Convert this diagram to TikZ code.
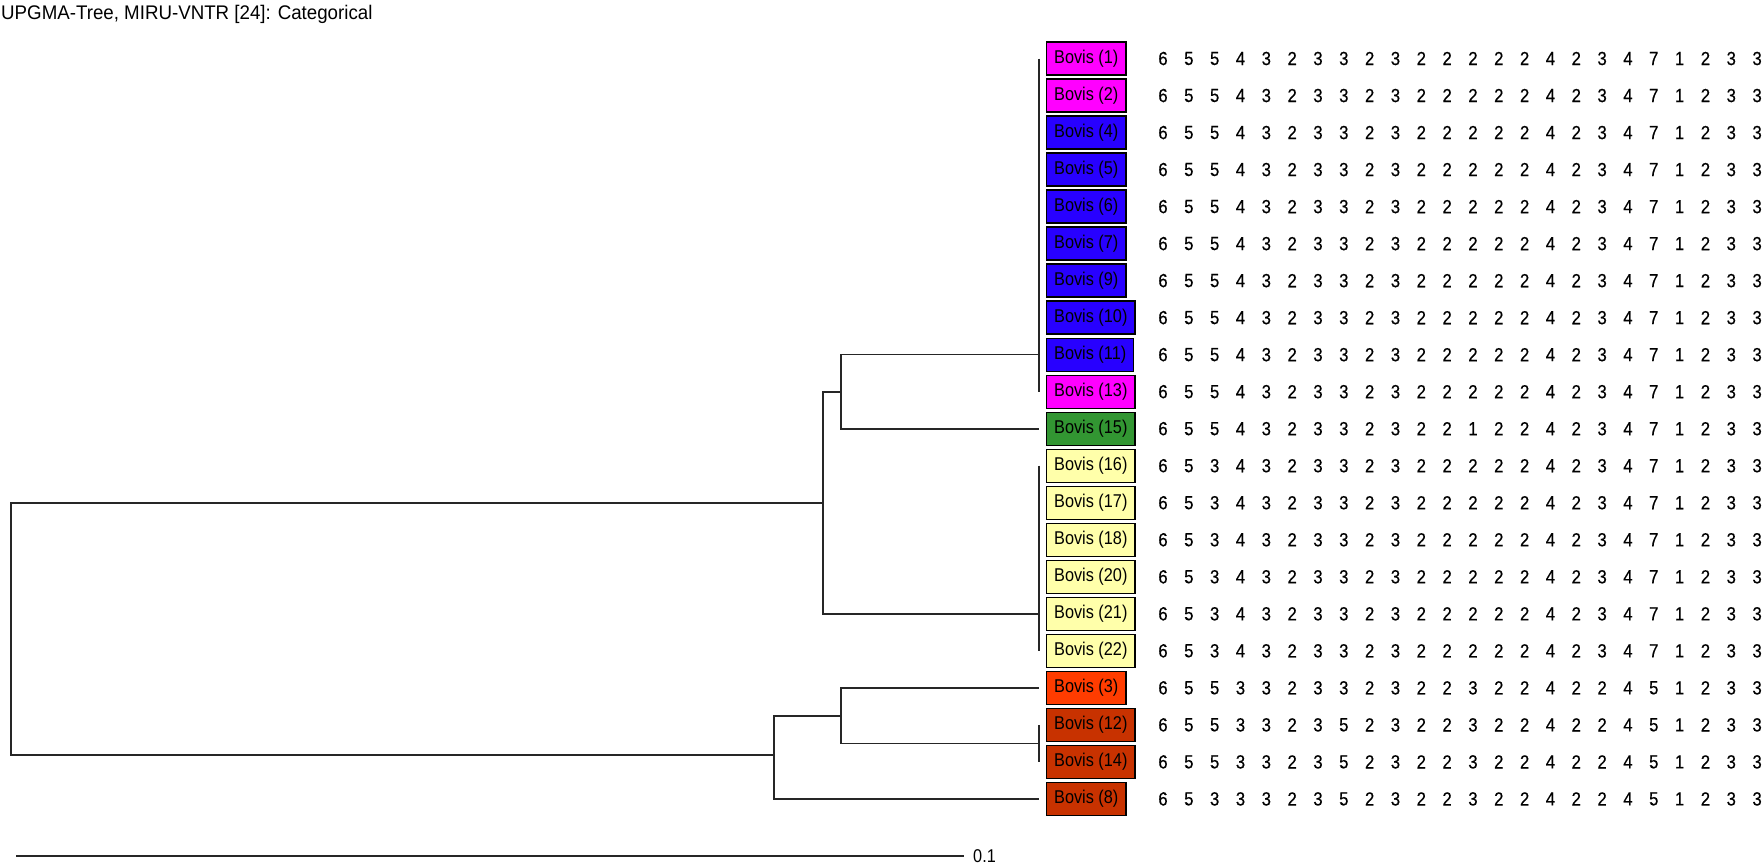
\documentclass[tikz,border=0pt]{standalone}
\usepackage{fontspec}
\setmainfont{Liberation Sans}[FakeStretch=0.88]
\newfontfamily\titlefont{Liberation Sans}[FakeStretch=0.95]
\definecolor{bmag}{RGB}{255,0,255}
\definecolor{bblue}{RGB}{40,0,255}
\definecolor{bgreen}{RGB}{50,150,50}
\definecolor{byel}{RGB}{255,255,170}
\definecolor{bred}{RGB}{255,60,0}
\definecolor{bdark}{RGB}{200,50,0}
\begin{document}
\begin{tikzpicture}[x=1pt,y=-1pt,
  br/.style={line width=1.6pt, draw=black!85},
  lab/.style={draw=black, line width=1.3pt, anchor=west, minimum height=33pt,
    inner xsep=7.5pt, inner ysep=0pt, font=\fontsize{18.5}{20}\selectfont},
  dig/.style={inner sep=0pt, anchor=center, font=\fontsize{19}{21}\selectfont\addfontfeature{FakeBold=0.4}},
  ttl/.style={inner sep=0pt, anchor=base west, font=\titlefont\fontsize{19.7}{22}\selectfont}]
\useasboundingbox (0,0) rectangle (1762,865);

\node[ttl] (title) at (1,19) {UPGMA-Tree, MIRU-VNTR [24]: Categorical};

\foreach \i/\t/\c/\s in {
 0/1/bmag/{6,5,5,4,3,2,3,3,2,3,2,2,2,2,2,4,2,3,4,7,1,2,3,3},
 1/2/bmag/{6,5,5,4,3,2,3,3,2,3,2,2,2,2,2,4,2,3,4,7,1,2,3,3},
 2/4/bblue/{6,5,5,4,3,2,3,3,2,3,2,2,2,2,2,4,2,3,4,7,1,2,3,3},
 3/5/bblue/{6,5,5,4,3,2,3,3,2,3,2,2,2,2,2,4,2,3,4,7,1,2,3,3},
 4/6/bblue/{6,5,5,4,3,2,3,3,2,3,2,2,2,2,2,4,2,3,4,7,1,2,3,3},
 5/7/bblue/{6,5,5,4,3,2,3,3,2,3,2,2,2,2,2,4,2,3,4,7,1,2,3,3},
 6/9/bblue/{6,5,5,4,3,2,3,3,2,3,2,2,2,2,2,4,2,3,4,7,1,2,3,3},
 7/10/bblue/{6,5,5,4,3,2,3,3,2,3,2,2,2,2,2,4,2,3,4,7,1,2,3,3},
 8/11/bblue/{6,5,5,4,3,2,3,3,2,3,2,2,2,2,2,4,2,3,4,7,1,2,3,3},
 9/13/bmag/{6,5,5,4,3,2,3,3,2,3,2,2,2,2,2,4,2,3,4,7,1,2,3,3},
 10/15/bgreen/{6,5,5,4,3,2,3,3,2,3,2,2,1,2,2,4,2,3,4,7,1,2,3,3},
 11/16/byel/{6,5,3,4,3,2,3,3,2,3,2,2,2,2,2,4,2,3,4,7,1,2,3,3},
 12/17/byel/{6,5,3,4,3,2,3,3,2,3,2,2,2,2,2,4,2,3,4,7,1,2,3,3},
 13/18/byel/{6,5,3,4,3,2,3,3,2,3,2,2,2,2,2,4,2,3,4,7,1,2,3,3},
 14/20/byel/{6,5,3,4,3,2,3,3,2,3,2,2,2,2,2,4,2,3,4,7,1,2,3,3},
 15/21/byel/{6,5,3,4,3,2,3,3,2,3,2,2,2,2,2,4,2,3,4,7,1,2,3,3},
 16/22/byel/{6,5,3,4,3,2,3,3,2,3,2,2,2,2,2,4,2,3,4,7,1,2,3,3},
 17/3/bred/{6,5,5,3,3,2,3,3,2,3,2,2,3,2,2,4,2,2,4,5,1,2,3,3},
 18/12/bdark/{6,5,5,3,3,2,3,5,2,3,2,2,3,2,2,4,2,2,4,5,1,2,3,3},
 19/14/bdark/{6,5,5,3,3,2,3,5,2,3,2,2,3,2,2,4,2,2,4,5,1,2,3,3},
 20/8/bdark/{6,5,3,3,3,2,3,5,2,3,2,2,3,2,2,4,2,2,4,5,1,2,3,3}}
{
  \node[lab, fill=\c] (L\i) at (1046,{58.5+37.02*\i}) {Bovis (\t)};
  \coordinate (T\i) at (1039,{58.5+37.02*\i});
  \foreach \d [count=\j from 0] in \s
    \node[dig] (N\i-\j) at ({1163+25.83*\j},{58.5+37.02*\i}) {\d};
}

% internal nodes
\coordinate (nA) at (841,391.7);
\coordinate (nB) at (823,503);
\coordinate (root) at (11,629);
\coordinate (nC) at (774,755);
\coordinate (nD) at (841,716);
\coordinate (nE) at (1039,743.4);

% tree
\draw[br] (T0) -- (T9);
\draw[br] (T11) -- (T16);
\draw[br] (T18) -- (T19);
\draw[br] (T8) -| (nA) |- (T10);
\draw[br] (nA) -| (nB) |- (T15);
\draw[br] (nB) -| (root) |- (nC);
\draw[br] (T17) -| (nD) |- (nE);
\draw[br] (nD) -| (nC) |- (T20);

% scale bar
\coordinate (s0) at (16,856);
\coordinate (s1) at (964,856);
\node[inner sep=0pt, anchor=west, font=\fontsize{18.5}{20}\selectfont] (sl) at (973,856) {0.1};
\draw[br] (s0) -- (s1);
\end{tikzpicture}
\end{document}
